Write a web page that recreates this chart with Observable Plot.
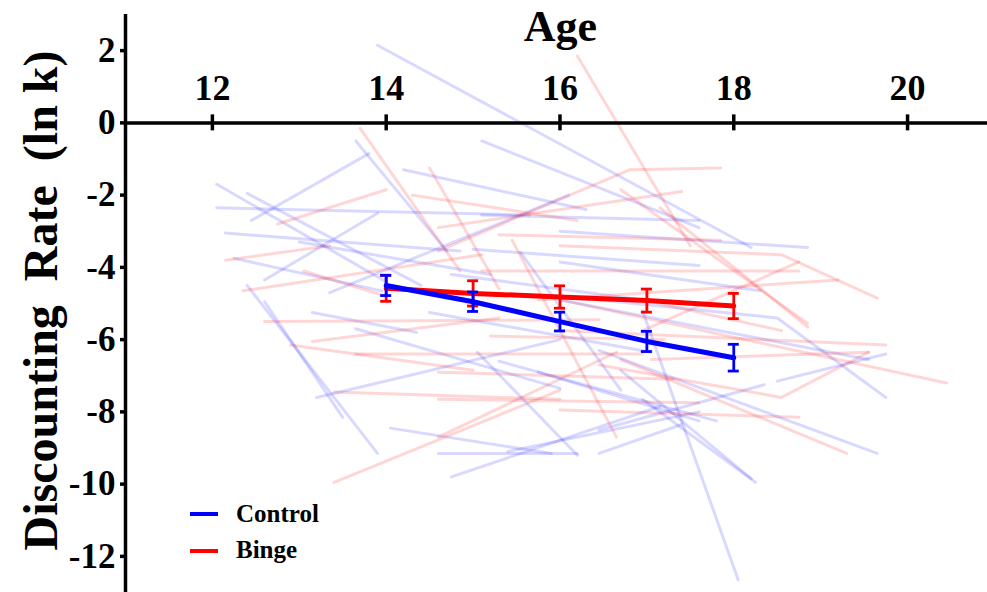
<!DOCTYPE html>
<html>
<head>
<meta charset="utf-8">
<script src="https://cdn.jsdelivr.net/npm/d3@7"></script>
<script src="https://cdn.jsdelivr.net/npm/@observablehq/plot@0.6"></script>
<style>
  html, body { margin: 0; padding: 0; background: #fff; overflow: hidden; }
  #chart { position: relative; width: 987px; height: 592px; }
  .legend-swatch { position: absolute; left: 190px; width: 28px; height: 4px; }
  .legend-label { position: absolute; left: 236px; font-family: "Liberation Serif", "Times New Roman", serif;
                  font-weight: bold; font-size: 25px; line-height: 25px; color: #000; white-space: nowrap; }
</style>
</head>
<body>
<div id="chart"></div>
<script>
// Individual trajectories: each subject is a list of [age, ln k] observations.
const controlSubjects = [
  [[13.9, 2.15], [18.2, -3.45]],
  [[15.1, -0.5], [17.6, -2.9]],
  [[13.65, -0.5], [14.7, -3.55]],
  [[12.45, -2.7], [13.8, -0.85]],
  [[12.05, -1.7], [14.0, -4.4]],
  [[12.4, -1.95], [14.4, -4.5]],
  [[12.05, -2.35], [15.65, -2.55]],
  [[12.15, -3.05], [14.85, -3.55]],
  [[12.25, -3.75], [13.95, -4.65]],
  [[12.6, -4.35], [13.9, -2.5]],
  [[12.4, -4.5], [13.9, -9.15]],
  [[12.6, -4.95], [13.5, -8.15]],
  [[13.2, -7.6], [16.0, -6.0]],
  [[13.15, -5.25], [14.35, -5.8]],
  [[14.05, -8.45], [15.9, -9.15]],
  [[14.6, -9.15], [16.2, -9.15]],
  [[14.75, -9.8], [17.15, -7.85]],
  [[16.45, -9.15], [17.4, -8.35]],
  [[16.95, -5.2], [18.05, -12.65]],
  [[16.95, -7.65], [18.25, -9.95]],
  [[16.45, -6.3], [19.65, -9.15]],
  [[16.0, -3.0], [18.85, -3.45]],
  [[16.45, -4.9], [18.5, -5.4], [19.75, -7.6]],
  [[18.5, -7.15], [19.75, -6.4]],
  [[16.45, -8.5], [18.35, -7.25]],
  [[16.7, -6.85], [18.2, -9.85]],
  [[16.0, -4.9], [19.55, -6.55]],
  [[13.35, -4.7], [16.1, -2.0]],
  [[15.0, -3.5], [17.6, -3.95]],
  [[14.5, -5.25], [17.05, -6.35]],
  [[15.3, -6.6], [17.8, -8.25]],
  [[13.65, -5.7], [16.0, -7.35]],
  [[15.05, -6.35], [16.2, -9.2]],
  [[15.4, -9.1], [17.6, -8.0]],
  [[15.75, -6.9], [17.6, -8.25]],
  [[15.55, -3.6], [16.7, -7.4]],
  [[14.2, -1.3], [16.3, -2.4]],
  [[13.0, -3.3], [15.2, -4.2]],
  [[15.1, -2.55], [17.6, -2.7]],
  [[14.75, -4.2], [16.95, -4.9]],
  [[16.0, -3.85], [18.3, -4.65]]
];

const bingeSubjects = [
  [[16.2, 1.85], [17.5, -3.4]],
  [[13.7, -0.15], [14.85, -4.1]],
  [[14.5, -1.25], [15.3, -4.6]],
  [[12.75, -2.8], [14.0, -1.85]],
  [[12.35, -4.65], [15.1, -3.65]],
  [[12.6, -5.5], [16.45, -5.45]],
  [[13.15, -6.05], [15.3, -5.4]],
  [[13.65, -6.4], [16.95, -6.4]],
  [[13.4, -7.45], [16.0, -7.65]],
  [[13.4, -9.95], [16.0, -7.4]],
  [[13.05, -4.1], [14.0, -4.8]],
  [[14.6, -3.55], [16.8, -1.3], [17.85, -1.25]],
  [[16.0, -3.4], [18.55, -3.65], [19.65, -4.85]],
  [[16.7, -1.85], [18.85, -5.55]],
  [[15.1, -4.1], [18.75, -4.1]],
  [[15.75, -4.9], [19.2, -4.35]],
  [[17.05, -6.55], [19.55, -6.35]],
  [[16.0, -4.9], [20.45, -7.2]],
  [[16.0, -5.75], [19.75, -6.15]],
  [[16.45, -6.7], [18.55, -7.6], [19.55, -6.35]],
  [[16.0, -7.95], [18.75, -8.15]],
  [[16.7, -6.55], [19.3, -9.15]],
  [[17.15, -2.35], [18.85, -5.65]],
  [[16.95, -5.75], [18.75, -3.85]],
  [[12.15, -3.8], [13.35, -3.4]],
  [[12.9, -6.15], [15.0, -6.85]],
  [[14.6, -6.9], [17.3, -7.1]],
  [[14.6, -7.65], [17.6, -7.75]],
  [[14.6, -8.7], [16.65, -6.35]],
  [[15.45, -3.25], [16.65, -8.7]],
  [[16.95, -4.9], [18.55, -5.75]],
  [[14.6, -2.9], [17.4, -1.9]],
  [[14.3, -2.0], [16.2, -2.7]],
  [[15.2, -5.9], [17.2, -6.0]],
  [[15.3, -3.1], [17.85, -3.25]]
];

// Group means with standard errors at each age
const meanAges = [14, 15, 16, 17, 18];
const controlMean = [-4.5, -4.95, -5.5, -6.05, -6.5];
const controlSE = [0.28, 0.27, 0.26, 0.28, 0.37];
const bingeMean = [-4.58, -4.72, -4.82, -4.92, -5.07];
const bingeSE = [0.36, 0.35, 0.31, 0.32, 0.35];

// Axis ticks
const ageTicks = [12, 14, 16, 18, 20];
const rateTicks = [2, 0, -2, -4, -6, -8, -10, -12];

const groupColors = {Control: "#0000ff", Binge: "#ff0000"};
const serif = "Liberation Serif, Times New Roman, serif";

function flatten(subjects, prefix) {
  const out = [];
  subjects.forEach((pts, i) => pts.forEach(([age, value]) => out.push({id: prefix + i, age, value})));
  return out;
}
const controlRows = flatten(controlSubjects, "c");
const bingeRows = flatten(bingeSubjects, "b");

const summary = (means, ses) => meanAges.map((age, i) => ({age, mean: means[i], se: ses[i]}));
const controlSummary = summary(controlMean, controlSE);
const bingeSummary = summary(bingeMean, bingeSE);

function meanMarks(data, color) {
  const opts = {stroke: color, strokeWidth: 2.8};
  return [
    Plot.line(data, {x: "age", y: "mean", stroke: color, strokeWidth: 5}),
    Plot.ruleX(data, {x: "age", y1: d => d.mean - d.se, y2: d => d.mean + d.se, ...opts}),
    Plot.ruleY(data, {y: d => d.mean - d.se, x1: "age", x2: "age", insetLeft: -5.5, insetRight: -5.5, ...opts}),
    Plot.ruleY(data, {y: d => d.mean + d.se, x1: "age", x2: "age", insetLeft: -5.5, insetRight: -5.5, ...opts})
  ];
}

const chart = Plot.plot({
  width: 987,
  height: 592,
  marginLeft: 125,
  marginRight: 0,
  marginTop: 14,
  marginBottom: 0,
  x: {domain: [11, 20.92], axis: null},
  y: {domain: [-13, 3], axis: null},
  style: {fontFamily: serif, background: "#fff", color: "#000"},
  marks: [
    // individual trajectories
    Plot.line(controlRows, {x: "age", y: "value", z: "id", stroke: groupColors.Control, strokeOpacity: 0.15, strokeWidth: 3}),
    Plot.line(bingeRows, {x: "age", y: "value", z: "id", stroke: groupColors.Binge, strokeOpacity: 0.16, strokeWidth: 3}),

    // age axis drawn along ln k = 0, labels above
    Plot.ruleY([0], {stroke: "#000", strokeWidth: 3.5}),
    Plot.ruleX(ageTicks, {x: d => d, y1: 0, y2: 0, insetTop: -8, insetBottom: -8, stroke: "#000", strokeWidth: 3.5}),
    Plot.text(ageTicks, {x: d => d, y: 0, text: d => String(d), lineAnchor: "bottom", dy: -23,
      fontSize: 36, fontWeight: "bold", fontFamily: serif, fill: "#000"}),
    Plot.text(["Age"], {text: d => d, frameAnchor: "top", textAnchor: "middle", dx: 4, dy: 26, lineAnchor: "bottom",
      fontSize: 44, fontWeight: "bold", fontFamily: serif, fill: "#000"}),

    // discounting-rate axis
    Plot.ruleX([11], {stroke: "#000", strokeWidth: 3.5}),
    Plot.ruleY(rateTicks, {y: d => d, x1: 11, x2: 11, insetLeft: -5, insetRight: 0, stroke: "#000", strokeWidth: 3.5}),
    Plot.text(rateTicks, {x: 11, y: d => d, text: d => String(d), textAnchor: "end", dx: -10,
      fontSize: 35, fontWeight: "bold", fontFamily: serif, fill: "#000"}),
    Plot.text(["Discounting\u00a0 Rate\u00a0 (ln k)"], {text: d => d, frameAnchor: "left", textAnchor: "middle", rotate: -90,
      dx: -69, dy: -3, lineAnchor: "bottom", fontSize: 48, fontWeight: "bold", fontFamily: serif, fill: "#000"}),

    // group means ± SE
    ...meanMarks(bingeSummary, groupColors.Binge),
    ...meanMarks(controlSummary, groupColors.Control)
  ]
});

const root = document.getElementById("chart");
root.appendChild(chart);

// legend
[["Control", groupColors.Control, 512, 501], ["Binge", groupColors.Binge, 549, 537]].forEach(([label, color, lineTop, textTop]) => {
  const sw = document.createElement("div");
  sw.className = "legend-swatch";
  sw.style.top = lineTop + "px";
  sw.style.background = color;
  root.appendChild(sw);
  const tx = document.createElement("div");
  tx.className = "legend-label";
  tx.style.top = textTop + "px";
  tx.textContent = label;
  root.appendChild(tx);
});
</script>
</body>
</html>
